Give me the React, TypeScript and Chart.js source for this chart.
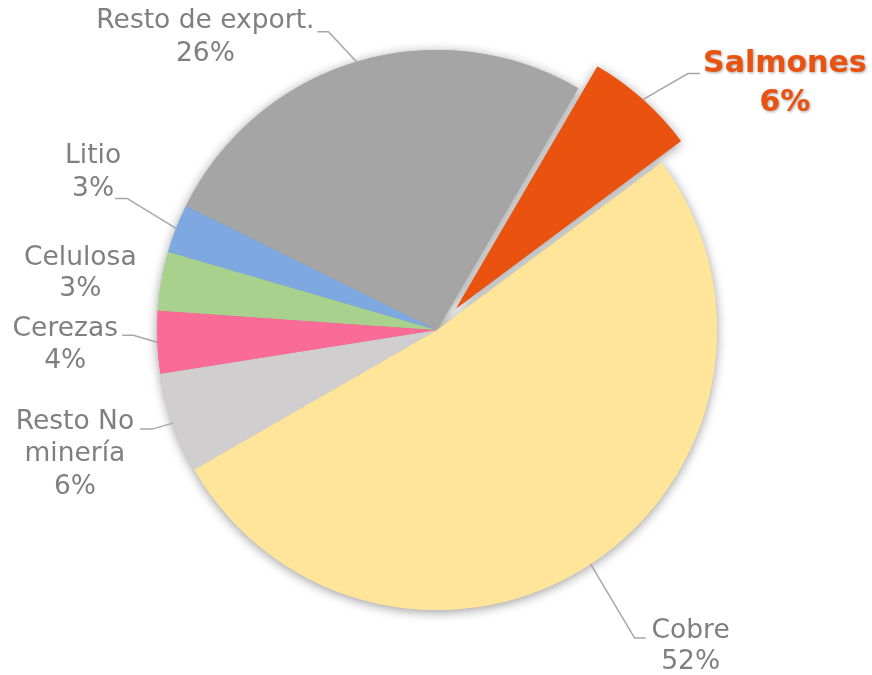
import React, { useEffect, useRef } from 'react';
import Chart from 'chart.js/auto';

// ---- data ----
const categories = ['Cobre', 'Resto No minería', 'Cerezas', 'Celulosa', 'Litio', 'Resto de export.', 'Salmones'];
const shares = [51.9, 5.8, 3.6, 3.4, 2.8, 26.1, 6.4];
const labelLines = [['Cobre'], ['Resto No', 'minería'], ['Cerezas'], ['Celulosa'], ['Litio'], ['Resto de export.'], ['Salmones']];

// ---- style ----
const colors = ['#FFE599', '#D0CECE', '#FA6B98', '#A9D18E', '#7DA8E0', '#A5A5A5', '#E9520F'];
const EXPLODE = [0, 0, 0, 0, 0, 0, 29];
const HIGHLIGHT = 6;
const ROTATION = 53.3;
// label layout, offsets from the slice's outer edge midpoint
const labelLayout = [
  { tx: 100, ty: 67, lh: 31, leader: [[44, 74], [55, 74]] },
  { tx: -98, ty: -1, lh: 32.5, leader: [[-21, 6], [-33, 6]] },
  { tx: -92, ty: -13, lh: 32, leader: [[-24, -7], [-35, -7]] },
  { tx: -81, ty: -23, lh: 31, leader: null },
  { tx: -83, ty: -72, lh: 33, leader: [[-49, -30], [-61, -30]] },
  { tx: -151, ty: -41, lh: 33, leader: [[-28, -30], [-39, -30]] },
  { tx: 142, ty: -35, lh: 39, leader: [[45, -26], [57, -26]] },
];
const FONT = '"DejaVu Sans", sans-serif';

export default function App() {
  const ref = useRef<HTMLCanvasElement>(null);
  useEffect(() => {
    if (!ref.current) return;
    const explodePlugin = {
      id: 'explode',
      afterDatasetsUpdate(chart: any) {
        const meta = chart.getDatasetMeta(0);
        meta.data.forEach((arc: any, i: number) => {
          const d = EXPLODE[i] || 0;
          if (!d) return;
          const mid = (arc.startAngle + arc.endAngle) / 2;
          arc.x += Math.cos(mid) * d;
          arc.y += Math.sin(mid) * d;
        });
      },
      beforeDatasetsDraw(chart: any) {
        const ctx = chart.ctx;
        const meta = chart.getDatasetMeta(0);
        ctx.save();
        ctx.shadowColor = 'rgba(0,0,0,0.4)';
        ctx.shadowBlur = 11;
        ctx.shadowOffsetX = 0;
        ctx.shadowOffsetY = 2;
        meta.data.forEach((arc: any, i: number) => {
          ctx.beginPath();
          ctx.moveTo(arc.x, arc.y);
          ctx.arc(arc.x, arc.y, arc.outerRadius, arc.startAngle, arc.endAngle);
          ctx.closePath();
          ctx.fillStyle = colors[i];
          ctx.fill();
        });
        ctx.restore();
      },
      afterDatasetsDraw(chart: any) {
        const ctx = chart.ctx;
        const meta = chart.getDatasetMeta(0);
        meta.data.forEach((arc: any, i: number) => {
          const mid = (arc.startAngle + arc.endAngle) / 2;
          const px = arc.x + Math.cos(mid) * arc.outerRadius;
          const py = arc.y + Math.sin(mid) * arc.outerRadius;
          const lay = labelLayout[i];
          ctx.save();
          if (lay.leader) {
            ctx.strokeStyle = '#A6A6A6';
            ctx.lineWidth = 1.5;
            ctx.beginPath();
            ctx.moveTo(px, py);
            lay.leader.forEach(([dx, dy]) => ctx.lineTo(px + dx, py + dy));
            ctx.stroke();
          }
          const lines = [...labelLines[i], Math.round(shares[i]) + '%'];
          const hi = i === HIGHLIGHT;
          ctx.font = hi ? `bold 30px ${FONT}` : `26.5px ${FONT}`;
          ctx.fillStyle = hi ? colors[i] : '#7F7F7F';
          ctx.textAlign = 'center';
          ctx.textBaseline = 'middle';
          if (hi) {
            ctx.shadowColor = 'rgba(0,0,0,0.35)';
            ctx.shadowBlur = 3;
            ctx.shadowOffsetX = 1;
            ctx.shadowOffsetY = 1;
          }
          lines.forEach((t, k) => ctx.fillText(t, px + lay.tx, py + lay.ty + k * lay.lh));
          ctx.restore();
        });
      },
    };
    const chart = new Chart(ref.current, {
      type: 'pie',
      data: {
        labels: categories,
        datasets: [{
          data: shares,
          backgroundColor: colors,
          borderWidth: 0,
          hoverBorderWidth: 0,
          hoverOffset: 0,
          offset: 0,
        }],
      },
      options: {
        responsive: false,
        animation: false,
        events: [],
        rotation: ROTATION,
        layout: { padding: { left: 157, right: 155, top: 50, bottom: 65 } },
        plugins: { legend: { display: false }, tooltip: { enabled: false } },
      },
      plugins: [explodePlugin],
    });
    return () => chart.destroy();
  }, []);
  return (
    <div style={{ position: 'fixed', left: 0, top: 0, width: 872, height: 675, background: '#fff' }}>
      <canvas ref={ref} width={872} height={675} style={{ display: 'block' }} />
    </div>
  );
}
